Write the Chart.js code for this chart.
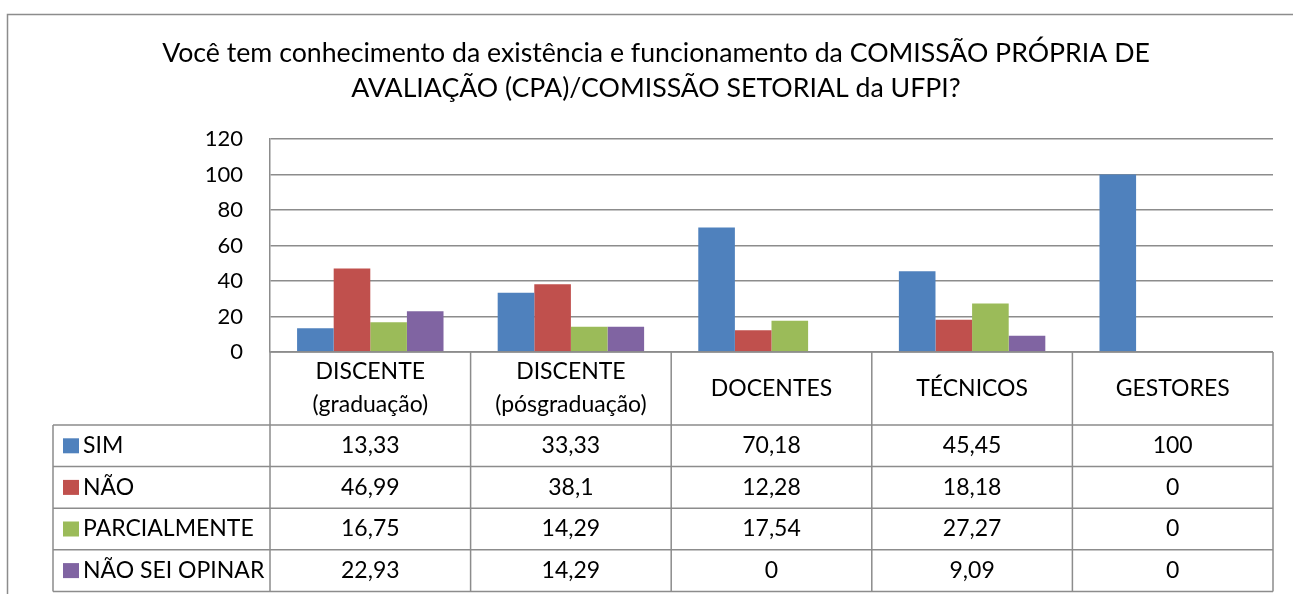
<!DOCTYPE html>
<html>
<head>
<meta charset="utf-8">
<script src="https://cdn.jsdelivr.net/npm/chart.js@4.4.0/dist/chart.umd.min.js"></script>
<style>
  body { margin: 0; background: #fff; }
  #wrap { width: 1293px; height: 594px; }
</style>
</head>
<body>
<div id="wrap"><canvas id="grafico" width="1293" height="594"></canvas></div>
<script>
// ==== Dados ====
const categorias = [['DISCENTE', '(graduação)'], ['DISCENTE', '(pósgraduação)'], 'DOCENTES', 'TÉCNICOS', 'GESTORES'];
const series = ['SIM', 'NÃO', 'PARCIALMENTE', 'NÃO SEI OPINAR'];
const sim = [13.33, 33.33, 70.18, 45.45, 100];
const nao = [46.99, 38.1, 12.28, 18.18, 0];
const parcial = [16.75, 14.29, 17.54, 27.27, 0];
const naoSei = [22.93, 14.29, 0, 9.09, 0];
const yTicks = [0, 20, 40, 60, 80, 100, 120];
const cores = ['#4F81BD', '#C0504D', '#9BBB59', '#8064A2'];

const FONTE = "Lato, 'Open Sans', sans-serif";
const CINZA = '#8c8c8c';

// ==== Moldura externa + tabela de dados ====
const moldura = {
  id: 'moldura',
  beforeDraw(chart) {
    const ctx = chart.ctx;
    ctx.save();
    ctx.fillStyle = '#fff';
    ctx.fillRect(0, 0, chart.width, chart.height);
    ctx.strokeStyle = CINZA; ctx.lineWidth = 1.5;
    ctx.beginPath();
    ctx.moveTo(7.5, chart.height); ctx.lineTo(7.5, 14.5); ctx.lineTo(chart.width, 14.5);
    ctx.stroke();
    ctx.restore();
  }
};

const tabela = {
  id: 'tabela',
  afterDraw(chart) {
    const ctx = chart.ctx, sx = chart.scales.x, area = chart.chartArea;
    const colW = (area.right - area.left) / categorias.length;
    const topo = area.bottom, headH = 73, rowH = 41.6, legX = 53;
    const dados = [sim, nao, parcial, naoSei];
    ctx.save();
    ctx.strokeStyle = CINZA; ctx.lineWidth = 1.5;
    ctx.beginPath();
    ctx.moveTo(area.left, topo); ctx.lineTo(area.right, topo);
    for (let r = 0; r <= series.length; r++) {
      const y = topo + headH + r * rowH;
      ctx.moveTo(legX, y); ctx.lineTo(area.right, y);
    }
    const fundo = topo + headH + series.length * rowH;
    for (let c = 0; c <= categorias.length; c++) {
      const x = area.left + c * colW;
      ctx.moveTo(x, topo); ctx.lineTo(x, fundo);
    }
    ctx.moveTo(legX, topo + headH); ctx.lineTo(legX, fundo);
    ctx.stroke();

    ctx.fillStyle = '#000';
    ctx.font = '23px ' + FONTE;
    ctx.textBaseline = 'middle';
    ctx.textAlign = 'center';
    // cabeçalho
    categorias.forEach((cat, i) => {
      const cx = sx.getPixelForValue(i), cy = topo + headH / 2;
      if (Array.isArray(cat)) {
        ctx.fillText(cat[0], cx, cy - 16.5);
        ctx.fillText(cat[1], cx, cy + 16.5);
      } else {
        ctx.fillText(cat, cx, cy);
      }
    });
    // linhas de valores
    dados.forEach((serie, r) => {
      const cy = topo + headH + r * rowH + rowH / 2;
      serie.forEach((v, i) => {
        ctx.fillText(String(v).replace('.', ','), sx.getPixelForValue(i), cy);
      });
      ctx.fillStyle = cores[r];
      ctx.fillRect(63, cy - 7.5, 16, 15);
      ctx.fillStyle = '#000';
      ctx.textAlign = 'left';
      ctx.fillText(series[r], 83, cy);
      ctx.textAlign = 'center';
    });
    ctx.restore();
  }
};

new Chart(document.getElementById('grafico'), {
  type: 'bar',
  data: {
    labels: categorias,
    datasets: [
      { label: series[0], data: sim, backgroundColor: cores[0] },
      { label: series[1], data: nao, backgroundColor: cores[1] },
      { label: series[2], data: parcial, backgroundColor: cores[2] },
      { label: series[3], data: naoSei, backgroundColor: cores[3] }
    ]
  },
  options: {
    responsive: false,
    animation: false,
    datasets: { bar: { categoryPercentage: 0.73, barPercentage: 1 } },
    layout: { padding: { left: 39, right: 20, top: 0, bottom: 242 } },
    plugins: {
      legend: { display: false },
      tooltip: { enabled: false },
      title: {
        display: true,
        text: ['Você tem conhecimento da existência e funcionamento da COMISSÃO PRÓPRIA DE',
               'AVALIAÇÃO (CPA)/COMISSÃO SETORIAL da UFPI?'],
        color: '#000',
        font: { family: FONTE, size: 26.7, weight: 'normal', lineHeight: 1.31 },
        padding: { top: 36, bottom: 33 }
      }
    },
    scales: {
      x: {
        ticks: { display: false },
        grid: { display: false, drawTicks: false },
        border: { display: false }
      },
      y: {
        min: yTicks[0], max: yTicks[yTicks.length - 1],
        afterFit(scale) { scale.width = 231; },
        afterBuildTicks(scale) { scale.ticks = yTicks.map(v => ({ value: v })); },
        ticks: { color: '#000', padding: 27, font: { family: FONTE, size: 22 } },
        grid: { color: CINZA, lineWidth: 1.5, drawTicks: false },
        border: { color: CINZA, width: 1.5 }
      }
    }
  },
  plugins: [moldura, tabela]
});
</script>
</body>
</html>
